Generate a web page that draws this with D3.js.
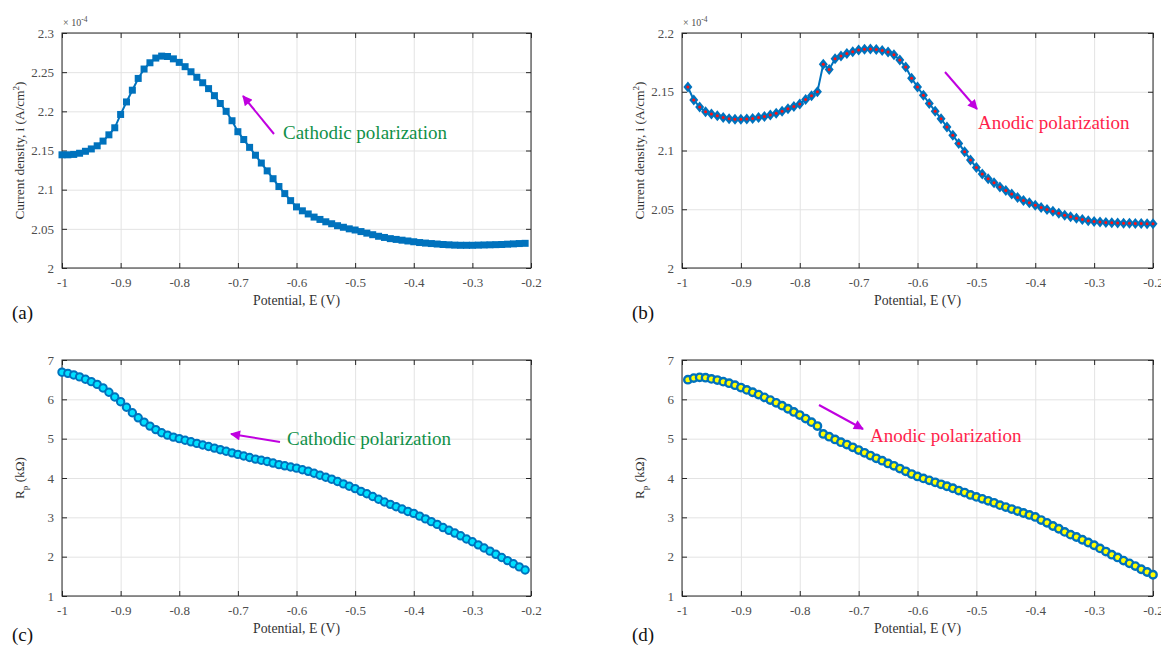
<!DOCTYPE html>
<meta charset="utf-8">
<html>
<head>
<title>Polarization curves</title>
<style>
  body { margin: 0; background: #fff; }
  svg, svg text { font-family: "Liberation Serif", "Times New Roman", Times, "DejaVu Serif", serif !important; }
</style>
</head>
<body>
<div id="fig"></div>
<script src="https://d3js.org/d3.v7.min.js"></script>
<script>
// ---- data ----
var potAC = [-1.00,-0.99,-0.98,-0.97,-0.96,-0.95,-0.94,-0.93,-0.92,-0.91,
  -0.90,-0.89,-0.88,-0.87,-0.86,-0.85,-0.84,-0.83,-0.82,-0.81,
  -0.80,-0.79,-0.78,-0.77,-0.76,-0.75,-0.74,-0.73,-0.72,-0.71,
  -0.70,-0.69,-0.68,-0.67,-0.66,-0.65,-0.64,-0.63,-0.62,-0.61,
  -0.60,-0.59,-0.58,-0.57,-0.56,-0.55,-0.54,-0.53,-0.52,-0.51,
  -0.50,-0.49,-0.48,-0.47,-0.46,-0.45,-0.44,-0.43,-0.42,-0.41,
  -0.40,-0.39,-0.38,-0.37,-0.36,-0.35,-0.34,-0.33,-0.32,-0.31,
  -0.30,-0.29,-0.28,-0.27,-0.26,-0.25,-0.24,-0.23,-0.22,-0.21];

var potBD = [-0.99,-0.98,-0.97,-0.96,-0.95,-0.94,-0.93,-0.92,-0.91,-0.90,
  -0.89,-0.88,-0.87,-0.86,-0.85,-0.84,-0.83,-0.82,-0.81,-0.80,
  -0.79,-0.78,-0.77,-0.76,-0.75,-0.74,-0.73,-0.72,-0.71,-0.70,
  -0.69,-0.68,-0.67,-0.66,-0.65,-0.64,-0.63,-0.62,-0.61,-0.60,
  -0.59,-0.58,-0.57,-0.56,-0.55,-0.54,-0.53,-0.52,-0.51,-0.50,
  -0.49,-0.48,-0.47,-0.46,-0.45,-0.44,-0.43,-0.42,-0.41,-0.40,
  -0.39,-0.38,-0.37,-0.36,-0.35,-0.34,-0.33,-0.32,-0.31,-0.30,
  -0.29,-0.28,-0.27,-0.26,-0.25,-0.24,-0.23,-0.22,-0.21,-0.20];

// (a) cathodic current density, x 1e-4 A/cm2
var currentCathodic = [2.1445,2.1445,2.1450,2.1465,2.1490,2.1520,2.1560,2.1620,2.1700,2.1790,
  2.1960,2.2120,2.2270,2.2420,2.2540,2.2620,2.2680,2.2705,2.2700,2.2670,
  2.2625,2.2570,2.2505,2.2435,2.2365,2.2290,2.2200,2.2100,2.2000,2.1880,
  2.1740,2.1640,2.1540,2.1440,2.1340,2.1240,2.1140,2.1040,2.0950,2.0860,
  2.0780,2.0730,2.0690,2.0650,2.0620,2.0590,2.0565,2.0540,2.0520,2.0500,
  2.0485,2.0465,2.0445,2.0425,2.0405,2.0390,2.0375,2.0365,2.0355,2.0345,
  2.0335,2.0325,2.0318,2.0312,2.0306,2.0300,2.0296,2.0292,2.0290,2.0290,
  2.0290,2.0292,2.0294,2.0296,2.0298,2.0300,2.0304,2.0308,2.0312,2.0315];

// (b) anodic current density, x 1e-4 A/cm2
var currentAnodic = [2.1540,2.1430,2.1370,2.1330,2.1310,2.1295,2.1280,2.1270,2.1265,2.1265,
  2.1268,2.1272,2.1280,2.1290,2.1302,2.1318,2.1335,2.1355,2.1375,2.1395,
  2.1435,2.1465,2.1500,2.1735,2.1690,2.1780,2.1805,2.1825,2.1840,2.1855,
  2.1862,2.1863,2.1860,2.1852,2.1838,2.1815,2.1770,2.1710,2.1615,2.1540,
  2.1470,2.1400,2.1335,2.1270,2.1200,2.1130,2.1060,2.0990,2.0920,2.0855,
  2.0800,2.0760,2.0725,2.0690,2.0660,2.0630,2.0600,2.0575,2.0555,2.0535,
  2.0515,2.0498,2.0482,2.0465,2.0450,2.0436,2.0424,2.0413,2.0403,2.0396,
  2.0392,2.0388,2.0385,2.0383,2.0381,2.0380,2.0379,2.0378,2.0377,2.0377];

// (c) Rp cathodic, kOhm
var rpCathodic = [6.69,6.66,6.62,6.57,6.51,6.45,6.38,6.29,6.18,6.06,
  5.94,5.80,5.66,5.53,5.42,5.32,5.23,5.15,5.09,5.04,
  5.00,4.96,4.92,4.88,4.84,4.80,4.76,4.72,4.68,4.64,
  4.60,4.56,4.52,4.48,4.45,4.42,4.38,4.34,4.31,4.28,
  4.25,4.21,4.17,4.12,4.07,4.02,3.97,3.91,3.85,3.79,
  3.73,3.66,3.60,3.53,3.46,3.39,3.33,3.27,3.21,3.15,
  3.10,3.03,2.96,2.89,2.82,2.74,2.67,2.60,2.53,2.45,
  2.38,2.30,2.22,2.14,2.06,1.98,1.90,1.82,1.74,1.66];

// (d) Rp anodic, kOhm
var rpAnodic = [6.50,6.54,6.56,6.55,6.52,6.49,6.45,6.41,6.36,6.30,
  6.24,6.18,6.12,6.05,5.98,5.91,5.84,5.76,5.68,5.60,
  5.51,5.42,5.32,5.12,5.05,4.98,4.91,4.85,4.78,4.71,
  4.64,4.57,4.50,4.44,4.37,4.31,4.24,4.17,4.10,4.04,
  3.99,3.94,3.89,3.84,3.79,3.74,3.68,3.63,3.57,3.52,
  3.47,3.42,3.37,3.31,3.26,3.21,3.16,3.11,3.06,3.01,
  2.93,2.86,2.78,2.71,2.63,2.56,2.50,2.43,2.36,2.29,
  2.21,2.13,2.05,1.98,1.90,1.83,1.76,1.68,1.61,1.54];

var xTicks = [-1, -0.9, -0.8, -0.7, -0.6, -0.5, -0.4, -0.3, -0.2];
var yTicksA = [2, 2.05, 2.1, 2.15, 2.2, 2.25, 2.3];
var yTicksB = [2, 2.05, 2.1, 2.15, 2.2];
var yTicksRp = [1, 2, 3, 4, 5, 6, 7];

var blue = "#0072BD";
var magenta = "#c000e0";
var serif = "Liberation Serif, Times New Roman, serif";

var svg = d3.select("#fig").append("svg")
  .attr("width", 1161).attr("height", 648)
  .attr("font-family", serif);

var defs = svg.append("defs");
defs.append("marker")
  .attr("id", "ahead")
  .attr("viewBox", "0 0 10 10")
  .attr("refX", 9).attr("refY", 5)
  .attr("markerWidth", 6).attr("markerHeight", 5)
  .attr("markerUnits", "strokeWidth")
  .attr("orient", "auto")
  .append("path").attr("d", "M0,0 L10,5 L0,10 Z").attr("fill", magenta);

function panel(p) {
  var x = d3.scaleLinear().domain([-1, -0.2]).range([p.left, p.right]);
  var y = d3.scaleLinear().domain(p.ydom).range([p.bottom, p.top]);
  var g = svg.append("g");
  var w = p.right - p.left, h = p.bottom - p.top;

  // grid
  g.append("g")
    .attr("transform", "translate(0," + p.bottom + ")")
    .call(d3.axisBottom(x).tickValues(xTicks).tickSize(-h).tickFormat(""))
    .call(s => s.select(".domain").remove())
    .selectAll("line").attr("stroke", "#e3e3e3");
  g.append("g")
    .attr("transform", "translate(" + p.left + ",0)")
    .call(d3.axisLeft(y).tickValues(p.yticks).tickSize(-w).tickFormat(""))
    .call(s => s.select(".domain").remove())
    .selectAll("line").attr("stroke", "#e3e3e3");

  // inward ticks on all four sides + labels
  var ticks = g.append("g").attr("class", "ticks");
  ticks.append("g")
    .attr("transform", "translate(0," + p.bottom + ")")
    .call(d3.axisBottom(x).tickValues(xTicks).tickSizeInner(-5).tickSizeOuter(0).tickPadding(10)
      .tickFormat(d => String(d)));
  ticks.append("g")
    .attr("transform", "translate(0," + p.top + ")")
    .call(d3.axisTop(x).tickValues(xTicks).tickSizeInner(-5).tickSizeOuter(0).tickFormat(""));
  ticks.append("g")
    .attr("transform", "translate(" + p.left + ",0)")
    .call(d3.axisLeft(y).tickValues(p.yticks).tickSizeInner(-5).tickSizeOuter(0).tickPadding(8)
      .tickFormat(d => String(d)));
  ticks.append("g")
    .attr("transform", "translate(" + p.right + ",0)")
    .call(d3.axisRight(y).tickValues(p.yticks).tickSizeInner(-5).tickSizeOuter(0).tickFormat(""));
  ticks.selectAll("g").attr("font-family", serif);
  ticks.selectAll(".domain").remove();
  ticks.selectAll("line").attr("stroke", "#262626");
  ticks.selectAll("text").attr("font-size", "13px").attr("fill", "#4d4d4d");

  // frame
  g.append("rect").attr("x", p.left).attr("y", p.top).attr("width", w).attr("height", h)
    .attr("fill", "none").attr("stroke", "#262626").attr("stroke-width", 1);

  // axis titles
  g.append("text").attr("x", (p.left + p.right) / 2).attr("y", p.bottom + 37)
    .attr("text-anchor", "middle").attr("font-size", "13.8px").attr("fill", "#333")
    .text("Potential, E (V)");
  var yt = g.append("text")
    .attr("transform", "translate(" + (p.left - 38) + "," + ((p.top + p.bottom) / 2) + ") rotate(-90)")
    .attr("text-anchor", "middle").attr("font-size", "13.3px").attr("fill", "#333");
  if (p.rp) {
    yt.append("tspan").text("R");
    yt.append("tspan").attr("dy", 4).attr("font-size", "9px").text("p");
    yt.append("tspan").attr("dy", -4).text(" (k\u03A9)");
  } else {
    yt.append("tspan").text("Current density, i (A/cm");
    yt.append("tspan").attr("dy", -5).attr("font-size", "9px").text("2");
    yt.append("tspan").attr("dy", 5).text(")");
    var ex = g.append("text").attr("x", p.left + 1).attr("y", p.top - 7)
      .attr("font-size", "10px").attr("fill", "#4d4d4d");
    ex.append("tspan").text("\u00D7 10");
    ex.append("tspan").attr("dy", -4).attr("font-size", "7.5px").text("-4");
  }

  // panel tag
  g.append("text").attr("x", p.left - 50).attr("y", p.tagY)
    .attr("font-size", "19px").attr("fill", "#111").text(p.tag);

  // series
  var pts = p.xs.map((v, i) => [v, p.ys[i]]);
  g.append("path").datum(pts)
    .attr("fill", "none").attr("stroke", blue).attr("stroke-width", 2)
    .attr("d", d3.line().x(d => x(d[0])).y(d => y(d[1])));

  var m = g.append("g").selectAll("g").data(pts).enter().append("g")
    .attr("transform", d => "translate(" + x(d[0]) + "," + y(d[1]) + ")");
  if (p.marker === "square") {
    m.append("rect").attr("x", -3.5).attr("y", -3.5).attr("width", 7).attr("height", 7).attr("fill", blue);
  } else if (p.marker === "diamond") {
    m.append("path").attr("d", "M0,-5.5 L4.5,0 L0,5.5 L-4.5,0 Z").attr("fill", blue);
    m.append("circle").attr("r", 1.5).attr("fill", "#ff1010");
  } else {
    m.append("circle").attr("r", 3.7).attr("fill", p.fill)
      .attr("stroke", blue).attr("stroke-width", p.sw);
  }

  // annotation
  var a = p.arrow;
  g.append("line").attr("x1", a[0]).attr("y1", a[1]).attr("x2", a[2]).attr("y2", a[3])
    .attr("stroke", magenta).attr("stroke-width", 2).attr("marker-end", "url(#ahead)");
  g.append("text").attr("x", p.note[0]).attr("y", p.note[1])
    .attr("font-size", "19px").attr("fill", p.noteColor).text(p.noteText);
}

panel({tag: "(a)", tagY: 319, left: 62, right: 531, top: 33, bottom: 268, ydom: [2, 2.3], yticks: yTicksA,
  xs: potAC, ys: currentCathodic, marker: "square",
  arrow: [274, 134, 243, 96], note: [283, 139], noteText: "Cathodic polarization", noteColor: "#109048"});
panel({tag: "(b)", tagY: 319, left: 682, right: 1153, top: 33, bottom: 268, ydom: [2, 2.2], yticks: yTicksB,
  xs: potBD, ys: currentAnodic, marker: "diamond",
  arrow: [945, 72, 977, 109], note: [978, 129], noteText: "Anodic polarization", noteColor: "#ff1f4b"});
panel({tag: "(c)", tagY: 641, left: 62, right: 531, top: 360, bottom: 596, ydom: [1, 7], yticks: yTicksRp, rp: true,
  xs: potAC, ys: rpCathodic, marker: "circle", fill: "#00e0ff", sw: 2,
  arrow: [280, 442, 231, 434], note: [287, 445], noteText: "Cathodic polarization", noteColor: "#109048"});
panel({tag: "(d)", tagY: 641, left: 682, right: 1153, top: 360, bottom: 596, ydom: [1, 7], yticks: yTicksRp, rp: true,
  xs: potBD, ys: rpAnodic, marker: "circle", fill: "#ffff00", sw: 2.4,
  arrow: [819, 405, 863, 429], note: [870, 442], noteText: "Anodic polarization", noteColor: "#ff1f4b"});
</script>
</body>
</html>
